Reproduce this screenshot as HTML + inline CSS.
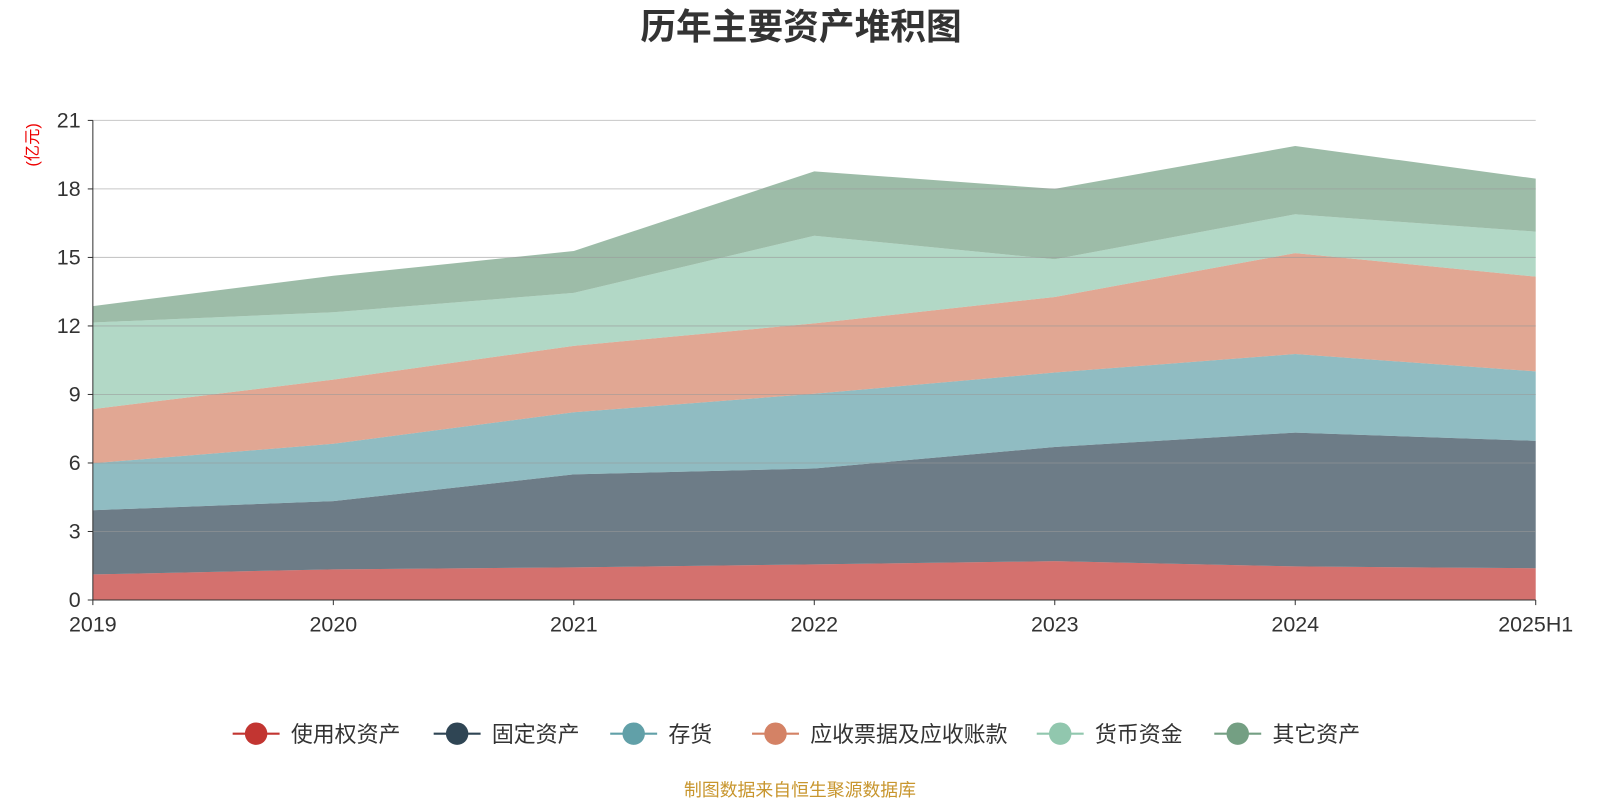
<!DOCTYPE html>
<html><head><meta charset="utf-8"><style>
body{margin:0;background:#fff;font-family:"Liberation Sans","Noto Sans CJK SC",sans-serif}
svg{display:block}
</style></head><body>
<svg width="1600" height="800" viewBox="0 0 1568 784" xmlns="http://www.w3.org/2000/svg" font-family="Liberation Sans, Noto Sans CJK SC, sans-serif">
<text x="785" y="38" text-anchor="middle" font-size="35" font-weight="bold" fill="#333">历年主要资产堆积图</text>
<text transform="translate(37,142) rotate(-90)" text-anchor="middle" font-size="16" fill="#e00">(亿元)</text>
<g id="areas"></g><g id="grid"></g><g id="axes"></g><g id="legend"></g>
<text x="784" y="780" text-anchor="middle" font-size="17.5" fill="#c8962e">制图数据来自恒生聚源数据库</text>
</svg>
<script>
const categories=["2019","2020","2021","2022","2023","2024","2025H1"];
const seriesNames=["使用权资产","固定资产","存货","应收票据及应收账款","货币资金","其它资产"];
const useRight=[1.12,1.34,1.43,1.56,1.7,1.47,1.39];
const fixedAssets=[2.81,2.99,4.07,4.2,5.0,5.86,5.58];
const inventory=[2.06,2.51,2.72,3.27,3.26,3.44,3.04];
const receivables=[2.37,2.81,2.91,3.08,3.31,4.42,4.15];
const cash=[3.79,2.95,2.32,3.84,1.65,1.7,1.97];
const others=[0.72,1.6,1.83,2.82,3.08,2.99,2.32];
const yTicks=[0,3,6,9,12,15,18,21];
const colors=["#c23531","#2f4554","#61a0a8","#d48265","#91c7ae","#749f83"];
const NS="http://www.w3.org/2000/svg";
const x0=91,x1=1505,yb=588,yt=118,ymax=21;
const X=i=>x0+i*(x1-x0)/(categories.length-1);
const Y=v=>yb-v/ymax*(yb-yt);
function mk(t,a,p){const e=document.createElementNS(NS,t);for(const k in a)e.setAttribute(k,a[k]);p.appendChild(e);return e;}
const series=[useRight,fixedAssets,inventory,receivables,cash,others];
let base=categories.map(()=>0);
const areas=document.getElementById('areas');
series.forEach((s,si)=>{
  const top=base.map((b,i)=>b+s[i]);
  let d=top.map((v,i)=>(i?'L':'M')+X(i)+','+Y(v)).join(' ');
  for(let i=categories.length-1;i>=0;i--)d+=' L'+X(i)+','+Y(base[i]);
  const p=mk('path',{d:d+'Z',fill:colors[si],'fill-opacity':0.7,stroke:'none'},areas);
  
  
  base=top;
});
const grid=document.getElementById('grid'),axes=document.getElementById('axes');
yTicks.forEach(v=>{
  if(v>0){const l=mk('line',{x1:x0,x2:x1,y1:Y(v),y2:Y(v),stroke:'#999','stroke-opacity':0.55},grid);
  
  }
  mk('line',{x1:x0-5,x2:x0,y1:Y(v),y2:Y(v),stroke:'#333'},axes);
  const t=mk('text',{x:x0-12,y:Y(v)+7,'text-anchor':'end','font-size':21,fill:'#333'},axes);t.textContent=v;
  
  
});
mk('line',{x1:x0,x2:x0,y1:yt,y2:yb,stroke:'#333'},axes);
mk('line',{x1:x0,x2:x1,y1:yb,y2:yb,stroke:'#333'},axes);
categories.forEach((c,i)=>{
  mk('line',{x1:X(i),x2:X(i),y1:yb,y2:yb+5,stroke:'#333'},axes);
  const t=mk('text',{x:X(i),y:yb+31,'text-anchor':'middle','font-size':21,fill:'#333'},axes);t.textContent=c;
  
  
});
const lg=document.getElementById('legend');
const lx=[228,425,598,737,1016,1190];
seriesNames.forEach((n,i)=>{
  const g=mk('g',{},lg);
  
  
  mk('line',{x1:lx[i],x2:lx[i]+46,y1:719,y2:719,stroke:colors[i],'stroke-width':2},g);
  mk('circle',{cx:lx[i]+23,cy:719,r:11,fill:colors[i]},g);
  const t=mk('text',{x:lx[i]+57,y:727,'font-size':21.5,fill:'#333'},g);t.textContent=n;
});
</script>
</body></html>
